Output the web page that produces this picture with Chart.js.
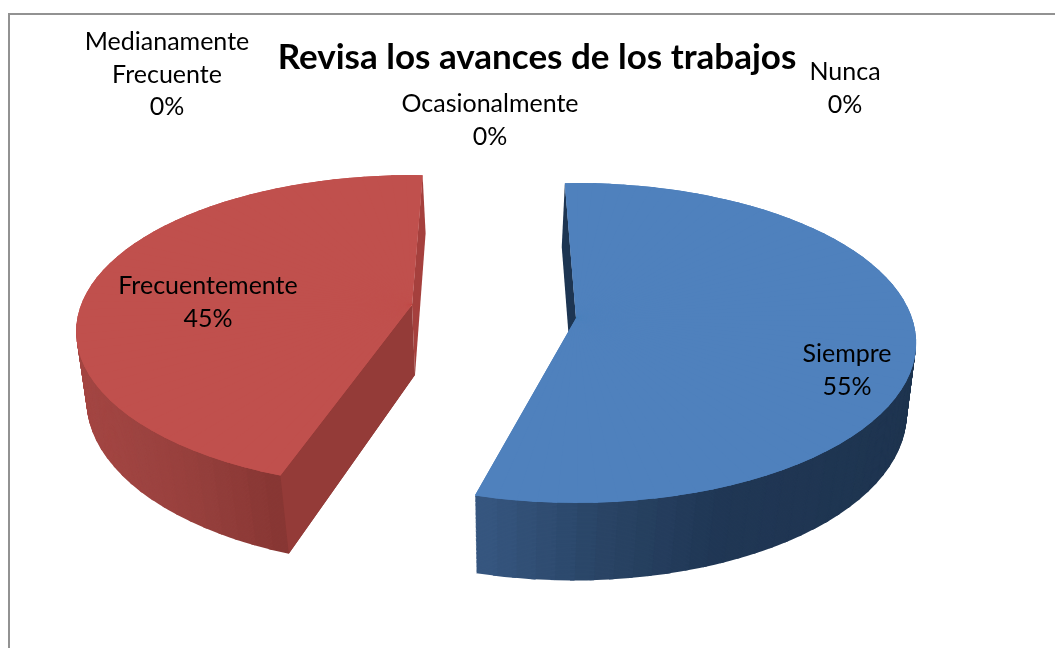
<!DOCTYPE html>
<html><head><meta charset="utf-8">
<style>html,body{margin:0;padding:0;background:#fff;overflow:hidden}canvas{display:block}</style>
<script src="https://cdn.jsdelivr.net/npm/chart.js@4/dist/chart.umd.min.js"></script>
</head><body><canvas id="c" width="1055" height="648"></canvas>
<script>
const titleText = 'Revisa los avances de los trabajos';
const categories = ['Siempre', 'Frecuentemente', 'Medianamente Frecuente', 'Ocasionalmente', 'Nunca'];
const percentValues = [55, 45, 0, 0, 0];
const sliceColors = ['#4f81bd', '#c0504d', '#9bbb59', '#8064a2', '#4bacc6'];

// label anchor (centre x, first-line y)
const labelAnchors = [[847, 354], [208, 286], [167, 42], [490, 104], [845, 72]];
const LINE = 32.5;
const FONT = 'Lato, "Open Sans", sans-serif';

// perspective view of each slice: top plane, bottom plane, angle nudge, wall shading
const views = {
  0: { rot: -0.2, stretch: 0.995,
       top: {ax: 576, ay: 318, R: 336, Ry: 156, k: 0.156},
       bot: {ax: 573, ay: 392, R: 331, Ry: 164, k: 0.13},
       wall: [[470,[0x37,0x58,0x82]],[600,[0x2a,0x45,0x66]],[720,[0x20,0x37,0x55]],[920,[0x1f,0x35,0x50]]],
       faces: {start: '#1d3552'} },
  1: { rot: 3.5, stretch: 1.004,
       top: {ax: 412, ay: 305, R: 331, Ry: 152, k: 0.17},
       bot: {ax: 415, ay: 375, R: 325, Ry: 163, k: 0.149},
       wall: [[70,[0xa5,0x47,0x44]],[180,[0x98,0x41,0x3e]],[290,[0x85,0x35,0x32]]],
       faces: {end: '#a5403d', start: '#943b38'} }
};

function lerp(a, b, t) { return a + (b - a) * t; }
function plane(v, h) {
  const o = {};
  for (const key of ['ax', 'ay', 'R', 'Ry', 'k']) o[key] = lerp(v.top[key], v.bot[key], h);
  return o;
}
function project(p, a) {
  const w = 1 - p.k * Math.sin(a);
  return [p.ax + p.R * Math.cos(a) / w, p.ay + p.Ry * Math.sin(a) / w];
}
function wallColor(stops, x) {
  let i = 0;
  while (i < stops.length - 2 && x > stops[i + 1][0]) i++;
  const [x0, c0] = stops[i], [x1, c1] = stops[i + 1];
  const t = Math.max(0, Math.min(1, (x - x0) / (x1 - x0)));
  return 'rgb(' + c0.map((c, n) => Math.round(lerp(c, c1[n], t))).join(',') + ')';
}
// Draws the library's own arc element through a piecewise-affine perspective.
function drawWedge(ctx, el, p, warp, a1, a2, color) {
  const r = el.outerRadius;
  const P1 = project(p, warp(a1)), P2 = project(p, warp(a2));
  const q1x = P1[0] - p.ax, q1y = P1[1] - p.ay, q2x = P2[0] - p.ax, q2y = P2[1] - p.ay;
  const c1 = Math.cos(a1), s1 = Math.sin(a1), c2 = Math.cos(a2), s2 = Math.sin(a2);
  const det = r * (c1 * s2 - c2 * s1);
  const m11 = (q1x * s2 - q2x * s1) / det, m12 = (q2x * c1 - q1x * c2) / det;
  const m21 = (q1y * s2 - q2y * s1) / det, m22 = (q2y * c1 - q1y * c2) / det;
  ctx.save();
  ctx.transform(m11, m21, m12, m22, p.ax - m11 * el.x - m12 * el.y, p.ay - m21 * el.x - m22 * el.y);
  const e = 0.006, R2 = r * 2;
  ctx.beginPath();
  ctx.moveTo(el.x, el.y);
  ctx.lineTo(el.x + R2 * Math.cos(a1 - e), el.y + R2 * Math.sin(a1 - e));
  ctx.lineTo(el.x + R2 * Math.cos(a2 + e), el.y + R2 * Math.sin(a2 + e));
  ctx.closePath();
  ctx.clip();
  const orig = el.options;
  const o = Object.create(orig);
  o.backgroundColor = color;
  el.options = o;
  el.draw(ctx);
  el.options = orig;
  ctx.restore();
}
function face(ctx, v, a, color) {
  const t = project(v.top, a), b = project(v.bot, a);
  ctx.fillStyle = color;
  ctx.beginPath();
  ctx.moveTo(v.top.ax, v.top.ay);
  ctx.lineTo(t[0], t[1]);
  ctx.lineTo(b[0], b[1]);
  ctx.lineTo(v.bot.ax, v.bot.ay);
  ctx.closePath();
  ctx.fill();
}
// Solid underlay so wedge seams near the apex cannot show through.
function underlay(ctx, p, warp, el, n, da, color) {
  ctx.fillStyle = color;
  ctx.beginPath();
  ctx.moveTo(p.ax, p.ay);
  for (let w = 0; w <= n; w++) {
    const q = project(p, warp(el.startAngle + w * da));
    ctx.lineTo(q[0], q[1]);
  }
  ctx.closePath();
  ctx.fill();
}

const pie3d = {
  id: 'pie3d',
  beforeDraw(chart) {
    const ctx = chart.ctx;
    ctx.save();
    ctx.strokeStyle = '#929292';
    ctx.lineWidth = 2;
    ctx.strokeRect(9, 14, 1200, 800);
    ctx.restore();
  },
  afterLayout(chart) {
    const tb = chart.titleBlock;
    if (tb) { tb.left += 9.5; tb.right += 9.5; }
  },
  beforeDatasetsDraw(chart) {
    const ctx = chart.ctx, meta = chart.getDatasetMeta(0);
    const step = 3 * Math.PI / 180, H = 60;
    meta.data.forEach((el, i) => {
      const v = views[i];
      if (!v || el.circumference <= 0) return;
      const rot = v.rot * Math.PI / 180;
      const warp = a => el.startAngle + rot + (a - el.startAngle) * v.stretch;
      const n = Math.ceil(el.circumference / step), da = el.circumference / n;
      // walls, deepest first
      for (let j = H; j >= 1; j--) {
        const p = plane(v, j / H);
        for (let w = 0; w < n; w++) {
          const a1 = el.startAngle + w * da, a2 = a1 + da, mid = warp((a1 + a2) / 2);
          if (Math.sin(mid) < -0.1) continue;
          const x = project(v.top, mid)[0];
          drawWedge(ctx, el, p, warp, a1, a2, wallColor(v.wall, x));
        }
      }
      // cut faces
      if (v.faces.end) face(ctx, v, warp(el.endAngle), v.faces.end);
      if (v.faces.start) face(ctx, v, warp(el.startAngle), v.faces.start);
      // top face
      underlay(ctx, v.top, warp, el, n, da, sliceColors[i]);
      for (let w = 0; w < n; w++) {
        const a1 = el.startAngle + w * da;
        drawWedge(ctx, el, v.top, warp, a1, a1 + da, sliceColors[i]);
      }
    });
    return false;
  },
  afterDraw(chart) {
    const ctx = chart.ctx;
    ctx.save();
    ctx.fillStyle = '#000';
    ctx.font = '25px ' + FONT;
    ctx.textAlign = 'center';
    ctx.textBaseline = 'middle';
    categories.forEach((name, i) => {
      const lines = name.split(' ').concat(percentValues[i] + '%');
      lines.forEach((t, n) => ctx.fillText(t, labelAnchors[i][0], labelAnchors[i][1] + n * LINE));
    });
    ctx.restore();
  }
};

new Chart(document.getElementById('c'), {
  type: 'pie',
  data: { labels: categories, datasets: [{ data: percentValues, backgroundColor: sliceColors, borderWidth: 0 }] },
  options: {
    responsive: false,
    animation: false,
    rotation: -2,
    layout: { padding: { top: 0, bottom: 40 } },
    plugins: {
      legend: { display: false },
      tooltip: { enabled: false },
      title: { display: true, text: titleText, color: '#000', padding: { top: 37, bottom: 60 },
               font: { family: FONT, size: 35, weight: 'bold' } }
    }
  },
  plugins: [pie3d]
});
</script></body></html>
